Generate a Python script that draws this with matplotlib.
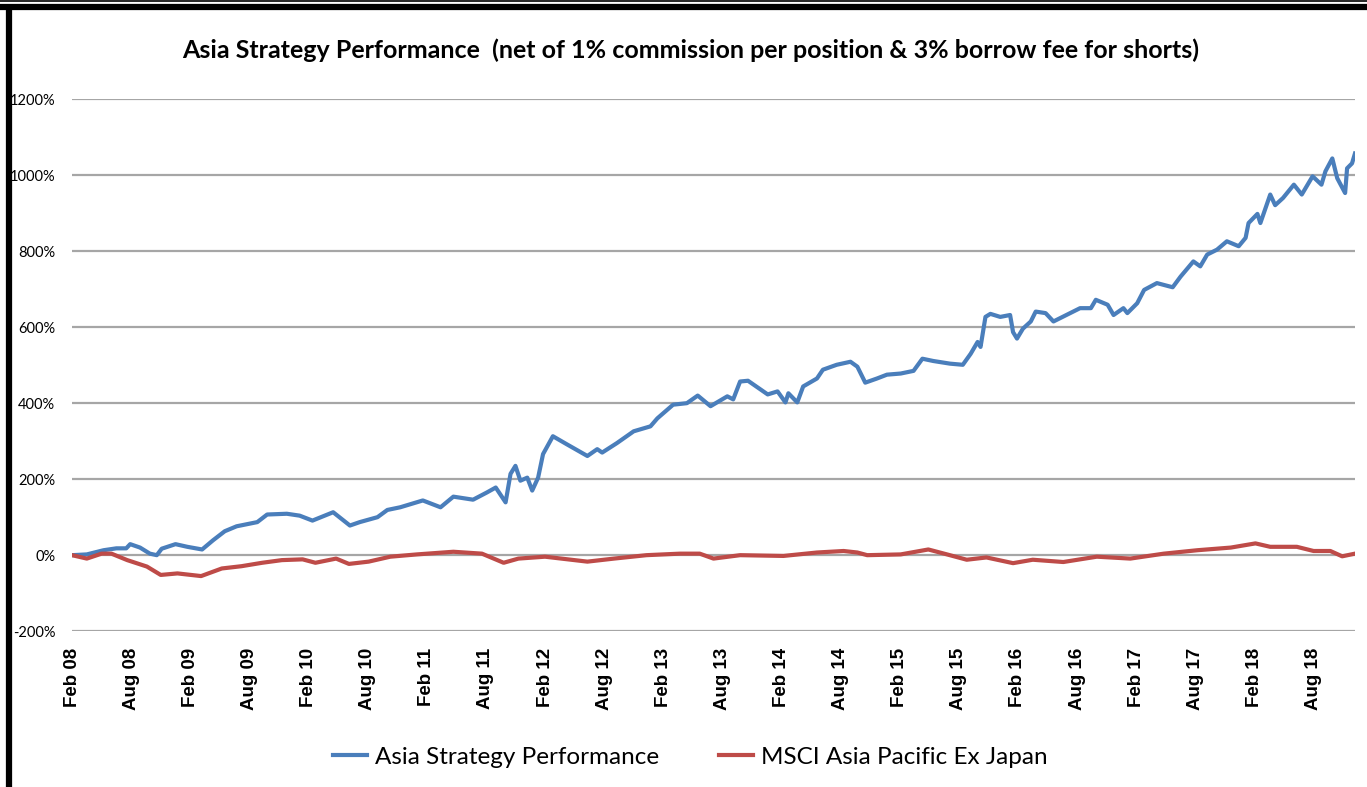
import matplotlib
matplotlib.use("Agg")
import matplotlib.pyplot as plt
from matplotlib.lines import Line2D

# months since Feb 2008, cumulative return in %
strat_m = [0, 1.5, 3.2, 4.5, 5.5, 5.9, 6.9, 7.9, 8.6, 9.1, 10.5, 11.7, 13.2, 14.3, 15.5,
           16.7, 18.8, 19.8, 21.8, 23.1, 24.4, 26.5, 28.2, 29.2, 31, 32, 33.3, 35.6,
           37.4, 38.7, 40.7, 42.1, 43, 44, 44.5, 45, 45.5, 46.2, 46.7, 47.3, 47.8,
           48.8, 50.2, 52.3, 53.3, 53.8, 55.3, 57, 58.7, 59.4, 61, 62.4, 63.5, 64.8,
           66.5, 67.1, 67.8, 68.6, 70.6, 71.6, 72.4, 72.7, 73.6, 74.2, 75.6, 76.2,
           77.6, 79, 79.7, 80.5, 81.7, 82.7, 84.1, 85.4, 86.3, 87.4, 89.1, 90.4,
           91.2, 91.9, 92.2, 92.7, 93.2, 94.2, 95.2, 95.5, 95.9, 96.5, 97.3, 97.8,
           98.8, 99.6, 100.6, 102.3, 103.4, 103.9, 105.1, 105.7, 106.7, 107.1,
           108.1, 108.8, 110.1, 111.7, 112.5, 113.8, 114.5, 115.2, 116.2, 117.2,
           118.4, 119.1, 119.4, 120.3, 120.6, 121.6, 122.1, 122.9, 124, 124.8,
           125.9, 126.8, 127.2, 127.9, 128.4, 129.2, 129.4, 129.9, 130.2]
strat_v = [0, 2, 13, 18, 18, 29, 20, 4, 0, 17, 29, 22, 15, 39, 63,
           76, 87, 107, 109, 104, 91, 113, 78, 87, 100, 119, 126, 144,
           126, 154, 146, 165, 178, 139, 214, 235, 196, 204, 170, 204, 266,
           313, 292, 261, 279, 270, 295, 326, 339, 360, 396, 400, 420, 392,
           418, 410, 457, 459, 423, 431, 402, 426, 402, 444, 465, 488,
           501, 509, 496, 454, 465, 475, 478, 485, 517, 511, 504, 501,
           530, 561, 548, 627, 635, 627, 632, 587, 570, 596, 615, 641,
           637, 615, 628, 650, 650, 672, 659, 632, 650, 637,
           663, 698, 716, 705, 733, 773, 760, 791, 804, 826,
           813, 835, 874, 898, 874, 949, 921, 940, 975, 949,
           997, 975, 1010, 1044, 992, 953, 1018, 1031, 1057]

msci_m = [0, 1.5, 3, 4, 5.6, 7.6, 9, 10.7, 13.1, 15.2, 17.2, 19.3, 21.3, 23.4, 24.7,
          26.8, 28.1, 30.1, 32.3, 35, 38.7, 41.6, 43.8, 45.3, 48, 52.3, 55, 58.3,
          61.7, 63.7, 65.1, 67.8, 72.2, 75.6, 78.3, 79.7, 80.7, 84.1, 86.9, 88.8,
          90.8, 92.8, 95.5, 97.5, 100.6, 104, 107.4, 110.8, 114.2, 117.6, 120.1,
          121.6, 124.3, 126, 127.7, 128.9, 130.2]
msci_v = [0, -9, 4, 4, -13, -30, -52, -48, -55, -35, -29, -20, -13, -11, -20,
          -9, -23, -17, -4, 2, 9, 4, -20, -9, -4, -17, -9, 0,
          4, 4, -9, 0, -2, 7, 11, 7, 0, 2, 15, 2,
          -12, -6, -21, -12, -18, -4, -9, 4, 13, 20, 31,
          22, 22, 11, 11, -3, 4]

tick_m = list(range(0, 127, 6))
tick_labels = [f"{mon} {yr:02d}" for yr in range(8, 19) for mon in ("Feb", "Aug")]
y_ticks = list(range(-200, 1201, 200))

body_font = ["Lato", "DejaVu Sans"]

fig = plt.figure(figsize=(13.67, 7.87), dpi=100)
ax = fig.add_axes([0.0527, 0.198, 0.9385, 0.676])

ax.plot(strat_m, strat_v, color="#4A7EBB", lw=3, label="Asia Strategy Performance")
ax.plot(msci_m, msci_v, color="#BE4B48", lw=3, label="MSCI Asia Pacific Ex Japan")

ax.set_xlim(0, 130.2)
ax.set_ylim(-200, 1200)
ax.set_yticks(y_ticks)
ax.set_yticklabels([f"{v}%" for v in y_ticks], fontsize=10.5, family=body_font)
ax.set_xticks(tick_m)
ax.set_xticklabels(tick_labels, rotation=90, fontsize=13.5,
                   family=["Liberation Sans", "DejaVu Sans"], fontweight="bold")
ax.tick_params(length=0)
ax.tick_params(axis="y", pad=12)
ax.tick_params(axis="x", pad=12)
ax.grid(axis="y", color="#A6A6A6", lw=1.6)
ax.set_axisbelow(True)
for s in ax.spines.values():
    s.set_visible(False)

fig.text(0.505, 0.936, "Asia Strategy Performance  (net of 1% commission per position & 3% borrow fee for shorts)",
         ha="center", va="center", fontsize=18, fontweight="bold", family=body_font)

fig.legend(loc="center", bbox_to_anchor=(0.505, 0.038), ncol=2, frameon=False,
           prop={"family": body_font, "size": 17.5},
           handlelength=1.4, handletextpad=0.3, columnspacing=2.5)

# border lines of the original frame
fig.add_artist(Line2D([0, 1], [0.999, 0.999], color="black", lw=1.2))
fig.add_artist(Line2D([0, 1], [0.9905, 0.9905], color="black", lw=4.5))
fig.add_artist(Line2D([0.0066, 0.0066], [0, 0.99], color="black", lw=4.5))

fig.savefig("out.png", dpi=100)
